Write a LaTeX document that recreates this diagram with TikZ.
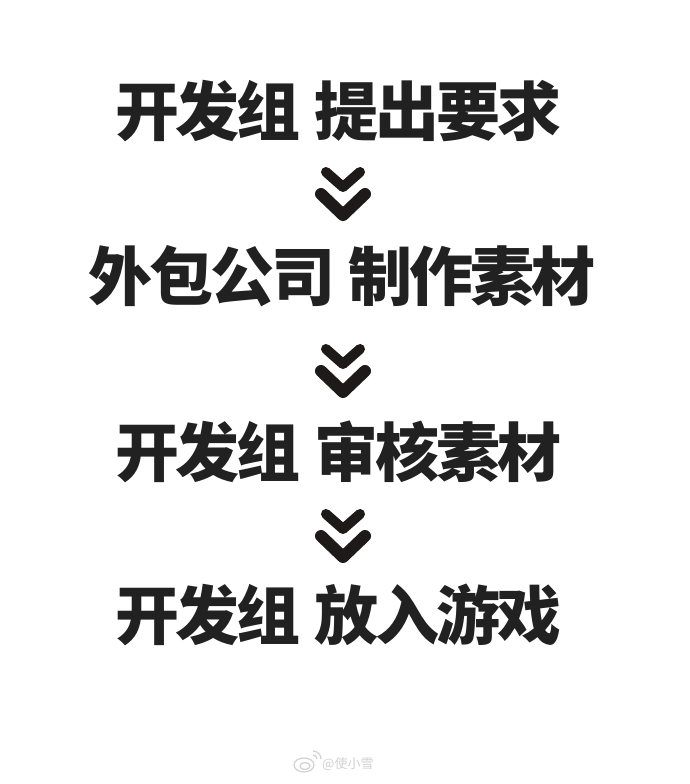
\documentclass[tikz,border=0pt]{standalone}
\usepackage{fontspec}
\newfontfamily\cjk{Noto Sans CJK SC}
\newfontfamily\cjkt[LetterSpace=-5]{Noto Sans CJK SC}
\definecolor{chevcol}{RGB}{30,26,26}
\begin{document}
\begin{tikzpicture}[x=1pt,y=-1pt,
  step txt/.style={font=\cjkt\bfseries\fontsize{64}{64}\selectfont, text=black!87, inner sep=0pt, anchor=center},
  chev/.style={draw=chevcol, line cap=round, line join=round},
  wm/.style={font=\cjk\fontsize{13}{13}\selectfont, text=black!18, inner sep=0pt}]
\useasboundingbox (0,0) rectangle (690,784);
\fill[white] (0,0) rectangle (690,784);
\node[step txt] (s1) at (338,111) {开发组\hspace{14pt}提出要求};
\node[step txt] (s2) at (342,276) {外包公司\hspace{14pt}制作素材};
\node[step txt] (s3) at (338,452) {开发组\hspace{14pt}审核素材};
\node[step txt] (s4) at (338,615) {开发组\hspace{14pt}放入游戏};
\foreach \n/\t in {c1/165,c2/342,c3/507}{
  \coordinate (\n) at (343,\t);
  \draw[chev, line width=10pt] ([shift={(-17,7)}]\n) -- ([shift={(0,22)}]\n) -- ([shift={(17,7)}]\n);
  \draw[chev, line width=12pt] ([shift={(-22,29)}]\n) -- ([shift={(0,50)}]\n) -- ([shift={(22,29)}]\n);
}
% watermark
\coordinate (logo) at (304,765);
\draw[black!18, line width=1.2pt] (logo) ellipse [x radius=10, y radius=7];
\draw[black!18, line width=1.2pt] ([shift={(1,1)}]logo) ellipse [x radius=5, y radius=3.5];
\draw[black!18, line width=1.2pt] ([shift={(9,-10)}]logo) arc[start angle=270, end angle=360, radius=4];
\draw[black!18, line width=1.2pt] ([shift={(9,-14)}]logo) arc[start angle=270, end angle=360, radius=8];
\node[wm, anchor=west] (wmtext) at (322,764) {@使小雪};
\end{tikzpicture}
\end{document}
